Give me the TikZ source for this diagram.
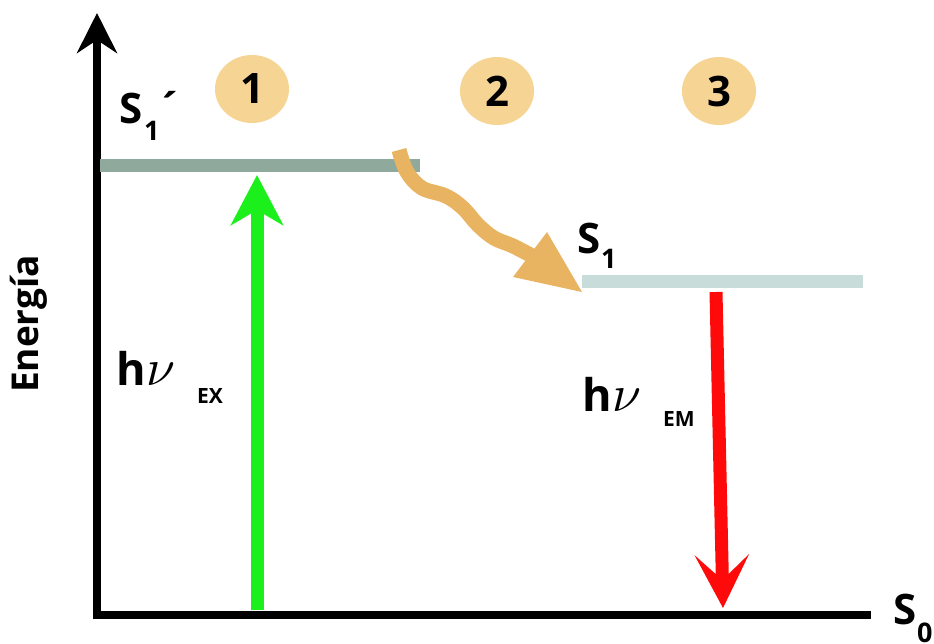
\documentclass[tikz,border=0pt]{standalone}
\usepackage{fontspec}
\usepackage{graphicx}
\setmainfont{Open Sans}
\usetikzlibrary{arrows.meta,shapes.geometric}
\definecolor{circfill}{HTML}{F6D594}
\definecolor{upperlevel}{HTML}{8FAA9C}
\definecolor{lowerlevel}{HTML}{C8DCDA}
\definecolor{wavecol}{HTML}{E8B462}
\definecolor{exgreen}{HTML}{1CF01C}
\definecolor{emred}{HTML}{FF0A0A}
\newcommand{\bigtxt}{\fontsize{42}{50}\selectfont\bfseries}
\newcommand{\htxt}{\fontsize{45}{50}\selectfont\bfseries}
\newcommand{\subtxt}{\fontsize{27}{32}\selectfont\bfseries}
\newcommand{\smalltxt}{\fontsize{21}{25}\selectfont\bfseries}
\newcommand{\nusym}{{\normalsize\scalebox{5.2}{$\nu$}}}
\tikzset{
  lbl/.style={inner sep=0pt, outer sep=0pt, anchor=base west},
  stepnum/.style={ellipse, fill=circfill, minimum width=74pt, minimum height=68pt, inner sep=0pt, font=\bigtxt},
  axisline/.style={line width=8pt, black},
  levelbar/.style={line width=13pt},
}
\begin{document}
\begin{tikzpicture}[x=1pt,y=-1pt]
\useasboundingbox (0,0) rectangle (934,643);
% axes
\coordinate (origin) at (97,615);
\coordinate (ytip) at (97,13);
\coordinate (xend) at (871,615);
\draw[axisline, -{Stealth[length=40pt,width=40pt,inset=13pt]}] (97,619) -- (ytip);
\draw[axisline] (93,615) -- (xend);
% levels
\coordinate (upA) at (100,165);
\coordinate (upB) at (420,165);
\coordinate (loA) at (582,281);
\coordinate (loB) at (863,281);
\draw[levelbar, upperlevel] (upA) -- (upB);
\draw[levelbar, lowerlevel] (loA) -- (loB);
% step circles
\node[stepnum] (c1) at (252,89) {1};
\node[stepnum] (c2) at (497,91) {2};
\node[stepnum] (c3) at (719,91) {3};
% excitation arrow
\coordinate (exbot) at (257,610);
\coordinate (extop) at (257,175);
\draw[line width=13pt, exgreen, -{Stealth[length=50pt,width=52pt,inset=15pt]}] (exbot) -- (extop);
% emission arrow
\coordinate (emtop) at (716,292);
\coordinate (embot) at (723,608);
\draw[line width=13pt, emred, -{Stealth[length=53pt,width=54pt,inset=25pt]}] (emtop) -- (embot);
% wavy relaxation arrow
\coordinate (hb) at (530,254);
\coordinate (htip) at (582,292);
\coordinate (hc1) at (547,232);
\coordinate (hc2) at (513,277);
\draw[wavecol, line width=15pt, line cap=butt] plot[smooth, tension=0.6] coordinates {(399,150) (407,172) (422,188) (446,196) (463,208) (478,225) (494,238) (513,246) (536,258)};
\fill[wavecol] (htip) -- (hc1) -- (hc2) -- cycle;
% labels
\node[lbl] (s1p) at (119,123) {\bigtxt S\kern2pt\raisebox{-17pt}{\subtxt 1}\kern-2pt´};
\node[lbl] (s1) at (577,253) {\bigtxt S\kern1pt\raisebox{-15pt}{\subtxt 1}};
\node[lbl] (s0) at (893,624) {\bigtxt S\kern1pt\raisebox{-18pt}{\subtxt 0}};
\node[lbl] (hex) at (116,385) {\htxt h\kern1pt\nusym};
\node[lbl] (ex) at (197,403) {\smalltxt EX};
\node[lbl] (hem) at (582,411) {\htxt h\kern1pt\nusym};
\node[lbl] (em) at (663,426) {\smalltxt EM};
\node[inner sep=0pt, rotate=90, font=\fontsize{37}{40}\selectfont\bfseries] (energia) at (29,324) {Energía};
\end{tikzpicture}
\end{document}
